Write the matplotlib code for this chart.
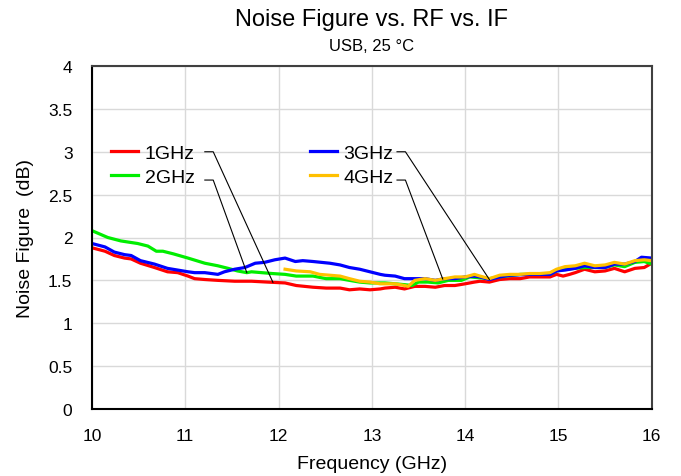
import numpy as np
import matplotlib
matplotlib.use('Agg')
import matplotlib.pyplot as plt
from matplotlib.ticker import MultipleLocator, FuncFormatter

plt.rcParams['font.family'] = ['Liberation Sans', 'DejaVu Sans']

# ================= DATA =================
# 1GHz IF (red)
f_1g = [10.0, 10.14, 10.24, 10.35, 10.42, 10.52, 10.67, 10.81, 10.92, 11.03,
        11.1, 11.21, 11.35, 11.53, 11.71, 11.88, 12.07, 12.19, 12.37, 12.51,
        12.66, 12.76, 12.87, 12.98, 13.09, 13.14, 13.25, 13.35, 13.46, 13.57,
        13.68, 13.78, 13.89, 14.0, 14.1, 14.16, 14.26, 14.37, 14.48, 14.59,
        14.69, 14.8, 14.91, 14.98, 15.05, 15.12, 15.18, 15.28, 15.39, 15.5,
        15.6, 15.71, 15.82, 15.92, 16.0]
nf_1g = [1.88, 1.84, 1.79, 1.76, 1.75, 1.70, 1.65, 1.60, 1.59, 1.55,
         1.52, 1.51, 1.50, 1.49, 1.49, 1.48, 1.47, 1.44, 1.42, 1.41,
         1.41, 1.39, 1.40, 1.39, 1.40, 1.41, 1.42, 1.40, 1.43, 1.43,
         1.42, 1.44, 1.44, 1.46, 1.48, 1.49, 1.48, 1.51, 1.52, 1.52,
         1.54, 1.54, 1.54, 1.57, 1.55, 1.57, 1.59, 1.63, 1.60, 1.61,
         1.64, 1.60, 1.64, 1.65, 1.70]

# 2GHz IF (green)
f_2g = [10.0, 10.17, 10.31, 10.49, 10.6, 10.69, 10.76, 10.87, 11.03, 11.21,
        11.35, 11.46, 11.56, 11.66, 11.71, 11.82, 11.93, 12.07, 12.19, 12.37,
        12.51, 12.66, 12.76, 12.87, 12.98, 13.09, 13.14, 13.25, 13.35, 13.43,
        13.5, 13.6, 13.71, 13.82, 13.96, 14.05, 14.26, 14.37, 14.59, 14.91,
        14.98, 15.07, 15.28, 15.5, 15.6, 15.71, 15.82, 15.92, 16.0]
nf_2g = [2.08, 2.00, 1.96, 1.93, 1.90, 1.84, 1.84, 1.81, 1.76, 1.70,
         1.67, 1.64, 1.61, 1.59, 1.60, 1.59, 1.58, 1.57, 1.55, 1.55,
         1.52, 1.52, 1.50, 1.48, 1.47, 1.47, 1.47, 1.46, 1.45, 1.44,
         1.48, 1.48, 1.47, 1.50, 1.50, 1.54, 1.52, 1.54, 1.57, 1.57,
         1.61, 1.63, 1.65, 1.65, 1.68, 1.66, 1.71, 1.72, 1.69]

# 3GHz IF (blue)
f_3g = [10.0, 10.14, 10.24, 10.35, 10.42, 10.52, 10.67, 10.81, 10.92, 11.03,
        11.1, 11.21, 11.35, 11.42, 11.53, 11.64, 11.75, 11.85, 11.96, 12.07,
        12.18, 12.26, 12.37, 12.55, 12.66, 12.76, 12.87, 12.98, 13.09, 13.14,
        13.25, 13.35, 13.46, 13.57, 13.68, 13.78, 13.89, 14.0, 14.1, 14.16,
        14.26, 14.37, 14.48, 14.69, 14.91, 14.98, 15.07, 15.18, 15.28, 15.39,
        15.5, 15.6, 15.71, 15.82, 15.89, 16.0]
nf_3g = [1.93, 1.89, 1.83, 1.80, 1.79, 1.73, 1.69, 1.64, 1.62, 1.60,
         1.59, 1.59, 1.57, 1.60, 1.63, 1.65, 1.70, 1.71, 1.74, 1.76,
         1.72, 1.73, 1.72, 1.70, 1.68, 1.65, 1.63, 1.60, 1.57, 1.56,
         1.55, 1.52, 1.52, 1.52, 1.50, 1.52, 1.52, 1.54, 1.55, 1.54,
         1.51, 1.54, 1.56, 1.57, 1.57, 1.61, 1.62, 1.64, 1.67, 1.65,
         1.65, 1.69, 1.69, 1.72, 1.77, 1.76]

# 4GHz IF (orange)
f_4g = [12.07, 12.19, 12.34, 12.44, 12.55, 12.66, 12.76, 12.87, 12.98, 13.09,
        13.14, 13.25, 13.35, 13.39, 13.46, 13.57, 13.68, 13.78, 13.89, 14.0,
        14.1, 14.16, 14.26, 14.37, 14.48, 14.59, 14.69, 14.8, 14.91, 14.98,
        15.07, 15.18, 15.28, 15.39, 15.5, 15.6, 15.71, 15.82, 15.92, 16.0]
nf_4g = [1.63, 1.61, 1.60, 1.57, 1.56, 1.55, 1.52, 1.49, 1.48, 1.46,
         1.46, 1.46, 1.44, 1.43, 1.50, 1.52, 1.50, 1.52, 1.54, 1.54,
         1.57, 1.55, 1.52, 1.56, 1.57, 1.57, 1.58, 1.58, 1.59, 1.63,
         1.66, 1.67, 1.70, 1.67, 1.68, 1.71, 1.69, 1.73, 1.74, 1.73]

labels = ['1GHz', '2GHz', '3GHz', '4GHz']
colors = ['#ff0000', '#00ee00', '#0000ff', '#ffc000']
# frequency where each label's leader line touches its curve
leader_freq = [11.94, 11.66, 14.26, 13.76]
# =========================================

series = [(f_1g, nf_1g), (f_2g, nf_2g), (f_3g, nf_3g), (f_4g, nf_4g)]

fig = plt.figure(figsize=(6.81, 4.77), dpi=100)
ax = fig.add_axes([0.135, 0.1405, 0.822, 0.719])

lines = []
for (f, nf), lab, col in zip(series, labels, colors):
    ln, = ax.plot(f, nf, color=col, lw=2.3, label=lab, solid_joinstyle='round')
    lines.append(ln)

ax.set_xlim(10, 16)
ax.set_ylim(0, 4)
ax.xaxis.set_major_locator(MultipleLocator(1))
ax.yaxis.set_major_locator(MultipleLocator(0.5))
ax.yaxis.set_major_formatter(FuncFormatter(lambda v, p: '%g' % v))
ax.grid(True, color='#d9d9d9', lw=1)
ax.set_axisbelow(True)
ax.tick_params(axis='x', length=0, labelsize=12.5, pad=14)
ax.tick_params(axis='y', length=0, labelsize=12.5, pad=14)

for s in ['top', 'right']:
    ax.spines[s].set_color('#404040')
    ax.spines[s].set_linewidth(1.5)
for s in ['left', 'bottom']:
    ax.spines[s].set_color('black')
    ax.spines[s].set_linewidth(1.5)

ax.set_xlabel('Frequency (GHz)', fontsize=14, labelpad=8)
ax.set_ylabel('Noise Figure  (dB)', fontsize=14, labelpad=10)

fig.text(0.546, 0.958, 'Noise Figure vs. RF vs. IF', ha='center', va='center', fontsize=17)
fig.text(0.546, 0.903, 'USB, 25 °C', ha='center', va='center', fontsize=12)

ax.legend(handles=lines, ncol=2, frameon=False, loc='upper left',
          bbox_to_anchor=(0.02, 0.795), fontsize=14, handlelength=1.4,
          handletextpad=0.35, columnspacing=5.9, labelspacing=0.35,
          borderaxespad=0)

# leader lines from label to curve
label_y = [3.0, 2.67, 3.0, 2.67]
label_x = [11.21, 11.21, 13.27, 13.27]
for (f, nf), lx, ly, lf in zip(series, label_x, label_y, leader_freq):
    ty = np.interp(lf, f, nf)
    ax.plot([lx, lx + 0.09, lf], [ly, ly, ty], color='black', lw=0.8)

fig.savefig('out.png', dpi=100)
